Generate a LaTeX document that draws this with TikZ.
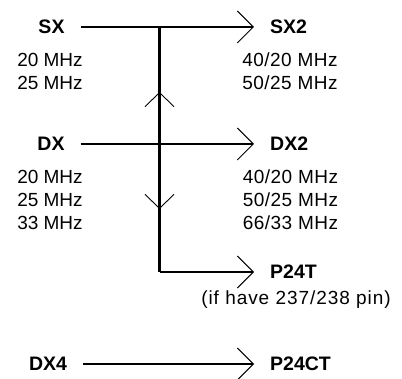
\documentclass[tikz,border=0pt]{standalone}
\usepackage{fontspec}
\setmainfont{Liberation Sans}
\usetikzlibrary{arrows.meta}

\tikzset{
  chip/.style={font=\bfseries\fontsize{19.5}{23}\selectfont, inner sep=2pt},
  freq/.style={font=\fontsize{19}{23}\selectfont, inner sep=2pt},
  wide/.style={freq, font=\fontsize{19}{23}\selectfont\addfontfeature{LetterSpace=#1}},
  bus/.style={line width=1.6pt, shorten <=14pt, shorten >=14pt,
    -{Straight Barb[length=16pt,width=32pt,line width=0.9pt]}},
  spine/.style={line width=3pt},
  flow/.style={line width=1pt, -{Straight Barb[length=14pt,width=29pt,line width=0.9pt]}},
}

\begin{document}
\begin{tikzpicture}[x=1pt,y=-1pt]
    \useasboundingbox (0,0) rectangle (402,379);
    % processors
    \node[chip] (sx) at (51.5,27) {SX};
    \node[chip] (dx) at (51,144) {DX};
    \node[chip] (dx4) at (48,364) {DX4};
    \foreach \f [count=\k] in {20,25}
        \node[freq] (sxf\k) at (50,37+23*\k) {\f{} MHz};
    \foreach \f [count=\k] in {20,25,33}
        \node[freq] (dxf\k) at (50,154+23*\k) {\f{} MHz};
    % upgrades
    \node[chip, anchor=west] (sx2) at (268,27) {SX2};
    \node[chip, anchor=west] (dx2) at (268,144) {DX2};
    \node[chip, anchor=west] (p24t) at (268,272) {P24T};
    \node[chip, anchor=west] (p24ct) at (268,364) {P24CT};
    \foreach \f [count=\k] in {40/20,50/25}
        \node[wide=2.4] (sx2f\k) at (290,37+23*\k) {\f{} MHz};
    \foreach \f [count=\k] in {40/20,50/25,66/33}
        \node[wide=2.4] (dx2f\k) at (290.5,154+23*\k) {\f{} MHz};
    \node[wide=5] (pin) at (296,300) {(if have 237/238 pin)};
    % connectors
    \coordinate (top) at (159.5,27);
    \coordinate (mid) at (159.5,144);
    \coordinate (bot) at (159.5,272);
    \coordinate (upT) at (159.5,92);
    \coordinate (dnT) at (159.5,209);
    \draw[bus] (sx) -- (sx2);
    \draw[bus] (dx) -- (dx2);
    \draw[bus] (dx4) -- (p24ct);
    \draw[spine] (top) -- (bot);
    \draw[bus, shorten <=0pt] (bot) -- (p24t);
    \draw[flow] (mid) -- (upT);
    \draw[flow] (mid) -- (dnT);
\end{tikzpicture}
\end{document}
